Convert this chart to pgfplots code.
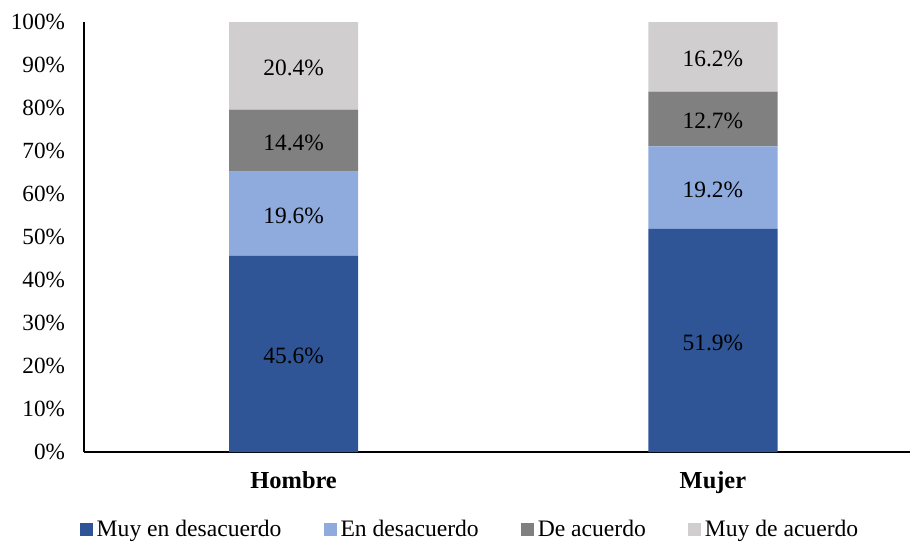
\documentclass[border=0pt]{standalone}
\usepackage{fontspec}
\setmainfont{Liberation Serif}
\usepackage{pgfplots}
\pgfplotsset{compat=1.18}

\definecolor{c1}{HTML}{2F5597}
\definecolor{c2}{HTML}{8FAADC}
\definecolor{c3}{HTML}{808080}
\definecolor{c4}{HTML}{D0CECE}

\begin{document}
\begin{tikzpicture}
\begin{axis}[
    width=413pt, height=215pt, scale only axis,
    ybar stacked, bar width=0.308,
    xmin=-0.5, xmax=1.47, ymin=0, ymax=100,
    axis lines*=left, axis line style={line width=1pt},
    major tick length=0pt,
    ytick={0,10,...,100},
    yticklabel={\pgfmathprintnumber{\tick}\%},
    /pgf/number format/assume math mode=true,
    xtick={0,1}, xticklabels={\textbf{Hombre},\textbf{Mujer}},
    xticklabel style={yshift=-6pt, font=\fontsize{12.2}{14}\selectfont},
    yticklabel style={xshift=-6pt, font=\fontsize{11.6}{14}\selectfont},
    legend style={draw=none, at={(0.4685,-0.181)}, anchor=center,
        legend columns=4, font=\fontsize{11.8}{14}\selectfont,
        /tikz/every even column/.append style={column sep=19pt}},
    legend image code/.code={\fill[#1] (0pt,-3pt) rectangle (6.5pt,3.5pt);},
]
\addplot[fill=c1, draw=none] coordinates {(0,45.6) (1,51.9)};
\addlegendentry{Muy en desacuerdo}
\addplot[fill=c2, draw=none] coordinates {(0,19.6) (1,19.2)};
\addlegendentry{En desacuerdo}
\addplot[fill=c3, draw=none] coordinates {(0,14.4) (1,12.7)};
\addlegendentry{De acuerdo}
\addplot[fill=c4, draw=none] coordinates {(0,20.4) (1,16.2)};
\addlegendentry{Muy de acuerdo}
\end{axis}
\begin{axis}[
    width=413pt, height=215pt, scale only axis,
    xmin=-0.5, xmax=1.47, ymin=0, ymax=100,
    hide axis,
]
\addplot[only marks, mark=none, nodes near coords, point meta=explicit symbolic,
    every node near coord/.append style={anchor=center, yshift=-1pt, font=\fontsize{11.7}{14}\selectfont}]
    table[meta=label] {
    x y label
    0 22.8 45.6\%
    0 55.4 19.6\%
    0 72.4 14.4\%
    0 89.8 20.4\%
    1 25.95 51.9\%
    1 61.5 19.2\%
    1 77.45 12.7\%
    1 91.9 16.2\%
    };
\end{axis}
\pgfresetboundingbox
\path ([shift={(-42pt,-45.5pt)}]current axis.south west) rectangle ([shift={(0pt,11pt)}]current axis.north east);
\end{tikzpicture}
\end{document}
